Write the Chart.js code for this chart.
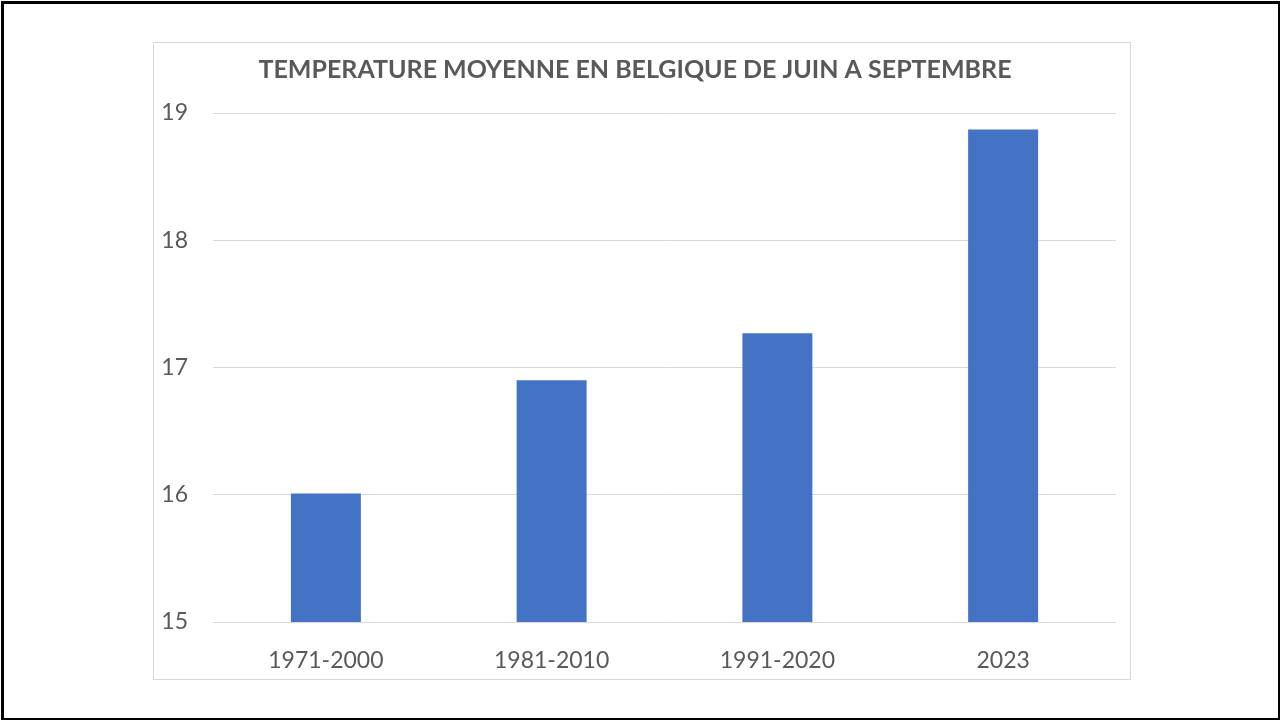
<!DOCTYPE html>
<html><head><meta charset="utf-8">
<script src="https://cdn.jsdelivr.net/npm/chart.js@4/dist/chart.umd.min.js"></script>
<style>
html,body{margin:0;padding:0;background:#fff;width:1280px;height:720px;overflow:hidden;}
#frame{position:absolute;left:1px;top:1px;width:1274px;height:714px;border:3px solid #000;}
#box{position:absolute;left:153px;top:42px;width:976px;height:636px;border:1px solid #d9d9d9;}
#box canvas{display:block;}
</style></head>
<body>
<div id="frame"></div>
<div id="box"><canvas id="c" width="976" height="636"></canvas></div>
<script>
const categories = ['1971-2000', '1981-2010', '1991-2020', '2023'];
const temperatures = [16.01, 16.90, 17.27, 18.87];
const yTicks = [15, 16, 17, 18, 19];
const titleText = 'TEMPERATURE MOYENNE EN BELGIQUE DE JUIN A SEPTEMBRE';

const textColor = '#595959';
new Chart(document.getElementById('c'), {
  type: 'bar',
  data: {
    labels: categories,
    datasets: [{
      data: temperatures,
      backgroundColor: '#4472C4',
      borderWidth: 0,
      barPercentage: 0.31,
      categoryPercentage: 1.0
    }]
  },
  options: {
    responsive: false,
    animation: false,
    layout: { padding: { left: 0, right: 14, top: 0, bottom: 0 } },
    plugins: {
      legend: { display: false },
      tooltip: { enabled: false },
      title: {
        display: true,
        text: titleText,
        color: textColor,
        font: { family: 'Lato', size: 25, weight: 'bold' },
        padding: { top: 12, bottom: 28 }
      }
    },
    scales: {
      x: {
        grid: { display: false },
        border: { display: false },
        ticks: { color: textColor, font: { family: 'Lato', size: 23 }, padding: 17 },
        afterFit: s => { s.height = 57; }
      },
      y: {
        min: yTicks[0],
        max: yTicks[yTicks.length - 1],
        afterBuildTicks: s => { s.ticks = yTicks.map(v => ({ value: v })); },
        grid: { color: '#d9d9d9', lineWidth: 1, drawTicks: false },
        border: { display: false },
        ticks: { color: textColor, font: { family: 'Lato', size: 23 }, padding: 25 },
        afterFit: s => { s.width = 59; }
      }
    }
  }
});
</script>
</body></html>
